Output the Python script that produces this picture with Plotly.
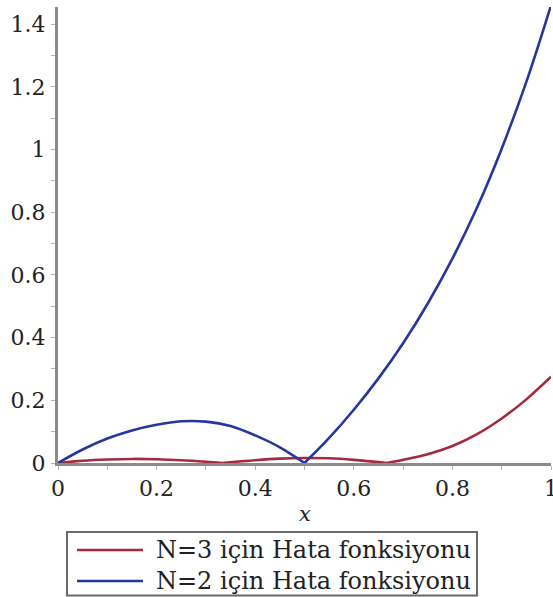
import plotly.graph_objects as go

# Error functions sampled on [0, 1]
x_n3 = [0.0, 0.05, 0.1, 0.15, 0.2, 0.25, 0.3, 0.333,
        0.4, 0.45, 0.5, 0.55, 0.6, 0.667,
        0.7, 0.75, 0.8, 0.85, 0.9, 0.95, 1.0]
y_n3 = [0.0, 0.007, 0.011, 0.013, 0.012, 0.009, 0.004, 0.0,
        0.009, 0.014, 0.016, 0.015, 0.01, 0.0,
        0.01, 0.028, 0.054, 0.092, 0.142, 0.203, 0.275]

x_n2 = [0.0, 0.05, 0.1, 0.15, 0.2, 0.25, 0.3, 0.35, 0.4, 0.45, 0.5,
        0.55, 0.6, 0.65, 0.7, 0.75, 0.8, 0.85, 0.9, 0.95, 1.0]
y_n2 = [0.0, 0.043, 0.078, 0.104, 0.122, 0.133, 0.132, 0.118, 0.088, 0.05, 0.0,
        0.08, 0.17, 0.27, 0.382, 0.509, 0.652, 0.815, 1.003, 1.216, 1.46]

legend_labels = ["N=3 için Hata fonksiyonu", "N=2 için Hata fonksiyonu"]
colors = ["#A52A3C", "#27369C"]

x_ticks = [0, 0.2, 0.4, 0.6, 0.8, 1]
y_ticks = [0, 0.2, 0.4, 0.6, 0.8, 1, 1.2, 1.4]

SERIF = "DejaVu Serif"
TEXT = "#222222"

fig = go.Figure()


def add_series(xs, ys, color):
    # split at interior zeros so the |error| corners stay sharp
    cuts = [0] + [i for i in range(1, len(ys) - 1) if ys[i] == 0] + [len(ys) - 1]
    for a, b in zip(cuts[:-1], cuts[1:]):
        fig.add_trace(go.Scatter(
            x=xs[a:b + 1], y=ys[a:b + 1], mode="lines",
            line=dict(color=color, width=2.6, shape="spline", smoothing=1.0),
            showlegend=False, hoverinfo="skip"))


add_series(x_n3, y_n3, colors[0])
add_series(x_n2, y_n2, colors[1])

# plot area geometry (px) used to place the legend box and axis title in paper units
L, T, W, H = 58, 7, 493, 456


def px_to_paper(px, py):
    return (px - L) / W, (T + H - py) / H


shapes = []
annotations = []

# x-axis title
tx, ty = px_to_paper(L + W / 2, 514)
annotations.append(dict(text="<i>x</i>", xref="paper", yref="paper", x=tx, y=ty,
                        xanchor="center", yanchor="middle", showarrow=False,
                        font=dict(family=SERIF, size=21, color=TEXT)))

# legend box
x0, y0 = px_to_paper(67, 532)
x1, y1 = px_to_paper(477, 595.5)
shapes.append(dict(type="rect", xref="paper", yref="paper", x0=x0, y0=y0, x1=x1, y1=y1,
                   line=dict(color="#6a6a6a", width=2), fillcolor="white", layer="above"))
for i, (lab, col) in enumerate(zip(legend_labels, colors)):
    py = 550 + 31 * i
    lx0, ly = px_to_paper(77, py)
    lx1, _ = px_to_paper(143, py)
    shapes.append(dict(type="line", xref="paper", yref="paper", x0=lx0, x1=lx1, y0=ly, y1=ly,
                       line=dict(color=col, width=2.6), layer="above"))
    tx, _ = px_to_paper(154, py)
    annotations.append(dict(text=lab, xref="paper", yref="paper", x=tx, y=ly,
                            xanchor="left", yanchor="middle", showarrow=False,
                            font=dict(family=SERIF, size=24, color=TEXT)))

axis_common = dict(
    showline=True, linecolor="#8c8c8c", linewidth=3, mirror=False,
    showgrid=False, zeroline=False, automargin=False,
    ticks="outside", ticklen=4, tickcolor="#b5b5b5", tickwidth=1,
    tickfont=dict(family=SERIF, size=22, color=TEXT),
)

fig.update_layout(
    width=553, height=597,
    margin=dict(l=L, r=553 - L - W, t=T, b=597 - T - H, autoexpand=False),
    paper_bgcolor="white", plot_bgcolor="white",
    font=dict(family=SERIF),
    xaxis=dict(range=[0, 1], tickvals=x_ticks, ticktext=[f"{v:g}" for v in x_ticks],
               minor=dict(dtick=0.1, ticks="outside", ticklen=4, tickcolor="#b5b5b5"),
               ticklabelstandoff=0, ticklabeloverflow="allow",
               **axis_common),
    yaxis=dict(range=[0, 1.455], tickvals=y_ticks, ticktext=[f"{v:g}" for v in y_ticks],
               minor=dict(dtick=0.1, ticks="outside", ticklen=4, tickcolor="#b5b5b5"),
               ticklabelstandoff=1,
               **axis_common),
    shapes=shapes, annotations=annotations,
    showlegend=False,
)

fig.write_html("out.html")
